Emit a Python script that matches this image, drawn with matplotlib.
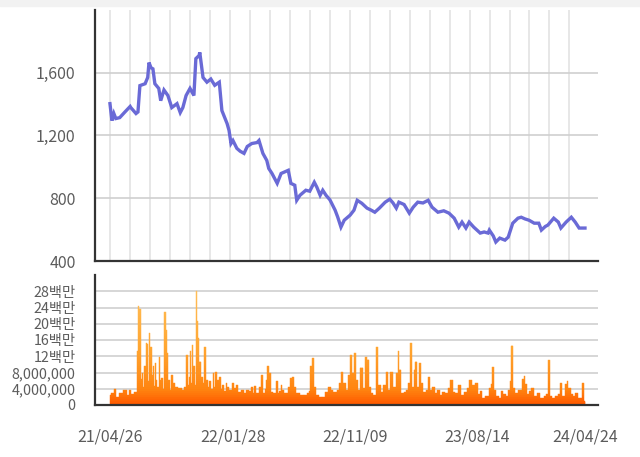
import matplotlib
matplotlib.use("Agg")
import matplotlib.pyplot as plt
import numpy as np
from matplotlib.colors import LinearSegmentedColormap
from matplotlib.patches import Rectangle

plt.rcParams['font.family'] = ['Noto Sans CJK KR', 'DejaVu Sans']

# trading-day number (0 = 21/04/26) and closing price
price_day = [0, 3, 6, 9, 15, 23, 31, 32, 40, 43, 46, 54, 58, 60, 63, 66, 69, 75, 78, 83,
             89, 95, 103, 108, 112, 117, 123, 129, 132, 137, 138, 143, 149, 155, 161, 168,
             172, 180, 183, 186, 189, 195, 200, 206, 211, 218, 226, 229, 235, 241, 244, 249,
             257, 263, 274, 278, 284, 287, 292, 301, 307, 314, 318, 323, 327, 332, 338, 346,
             350, 355, 360, 369, 375, 380, 387, 395, 401, 407, 414, 423, 430, 435, 440, 444,
             452, 460, 466, 473, 481, 489, 495, 504, 513, 521, 529, 536, 541, 547, 552, 559,
             569, 575, 581, 583, 589, 593, 599, 607, 612, 619, 627, 632, 638, 644, 652, 659,
             663, 669, 673, 682, 689, 693, 701, 709, 715, 721, 730]
price = [1403, 1295, 1340, 1308, 1314, 1350, 1385, 1378, 1340, 1350, 1518, 1530, 1570, 1665,
         1632, 1625, 1530, 1500, 1422, 1490, 1455, 1378, 1403, 1346, 1378, 1455, 1500, 1455,
         1690, 1710, 1730, 1570, 1540, 1560, 1520, 1540, 1359, 1276, 1232, 1149, 1168, 1118,
         1100, 1086, 1130, 1149, 1155, 1168, 1086, 1041, 990, 958, 895, 958, 978, 895, 883,
         787, 819, 851, 845, 902, 870, 819, 851, 819, 790, 724, 680, 616, 660, 692, 724, 787,
         768, 737, 725, 711, 737, 775, 794, 770, 737, 775, 760, 705, 743, 775, 770, 787, 743,
         711, 720, 705, 673, 616, 648, 610, 648, 616, 578, 585, 578, 597, 560, 521, 546, 533,
         552, 641, 673, 679, 668, 660, 641, 641, 597, 620, 629, 673, 648, 610, 648, 679, 648,
         610, 610]

# trading volume, millions of shares
vol_day = [0, 3, 8, 12, 17, 23, 28, 31, 35, 40, 42, 43, 46, 48, 50, 52, 54, 56, 58, 59, 60,
           63, 65, 67, 68, 69, 72, 74, 76, 78, 80, 82, 85, 86, 88, 90, 93, 96, 98, 102, 108,
           112, 115, 119, 120, 122, 124, 125, 127, 129, 131, 133, 135, 136, 138, 141, 144,
           146, 149, 151, 154, 157, 159, 161, 163, 166, 169, 171, 174, 177, 179, 181, 186,
           189, 192, 195, 200, 204, 208, 211, 215, 218, 221, 223, 227, 231, 234, 237, 239,
           241, 243, 246, 248, 253, 256, 259, 261, 264, 266, 269, 271, 275, 278, 282, 284,
           289, 295, 300, 305, 307, 309, 312, 314, 318, 323, 328, 333, 337, 341, 346, 351,
           353, 357, 360, 364, 367, 370, 374, 376, 379, 383, 387, 390, 393, 396, 399, 402,
           407, 411, 414, 418, 422, 426, 429, 433, 437, 441, 443, 446, 450, 453, 457, 460,
           463, 465, 468, 471, 474, 476, 480, 483, 487, 490, 493, 497, 501, 505, 508, 512,
           517, 521, 525, 529, 533, 538, 542, 546, 550, 554, 558, 563, 567, 569, 574, 580,
           584, 586, 589, 591, 595, 600, 603, 606, 610, 614, 616, 618, 620, 625, 630, 635,
           637, 640, 643, 646, 649, 653, 658, 664, 669, 672, 675, 678, 681, 686, 690, 693,
           697, 701, 703, 706, 710, 713, 717, 721, 725, 727, 729, 730]
vol_m = [2.5, 3.0, 3.9, 2.0, 3.0, 3.7, 2.5, 3.7, 2.8, 3.2, 13.2, 24.3, 23.6, 6.5, 7.9, 4.5,
         9.5, 15.3, 15.0, 6.0, 17.8, 14.4, 7.4, 9.5, 4.8, 10.3, 6.2, 4.5, 11.8, 6.2, 6.6, 4.0,
         23.0, 18.5, 12.8, 6.2, 3.7, 7.4, 5.3, 4.5, 4.1, 3.7, 4.5, 12.3, 5.0, 6.9, 13.2, 5.5,
         14.8, 9.5, 5.0, 28.0, 20.6, 16.5, 10.7, 6.9, 5.5, 14.4, 6.2, 4.5, 5.8, 4.0, 7.9, 4.5,
         8.2, 6.2, 6.9, 4.0, 4.9, 3.5, 5.3, 4.5, 3.8, 5.3, 4.2, 4.9, 3.3, 3.7, 2.9, 3.7, 3.5,
         4.5, 3.0, 4.7, 2.9, 4.5, 7.4, 2.9, 4.0, 6.2, 9.5, 7.9, 3.3, 2.9, 5.8, 2.9, 3.5, 4.9,
         3.7, 3.0, 2.9, 4.5, 6.6, 6.9, 4.5, 2.9, 2.5, 2.5, 2.9, 3.5, 9.5, 11.5, 4.5, 2.5, 1.9,
         2.0, 3.3, 4.5, 3.7, 3.3, 3.7, 5.3, 8.2, 5.3, 3.7, 7.4, 12.3, 7.8, 12.8, 6.2, 3.7, 9.1,
         4.1, 11.9, 11.1, 4.5, 2.9, 2.5, 14.4, 4.9, 3.3, 4.9, 8.2, 3.7, 8.2, 4.5, 7.8, 13.2,
         8.6, 2.9, 3.3, 3.7, 5.3, 15.2, 4.5, 8.6, 10.7, 4.5, 10.3, 5.3, 3.3, 3.7, 7.0, 3.7,
         4.5, 2.9, 3.7, 2.5, 3.3, 2.9, 4.1, 6.2, 3.3, 2.9, 4.9, 2.5, 3.3, 4.1, 6.2, 4.9, 5.3,
         2.6, 3.4, 1.8, 2.2, 4.3, 5.1, 9.4, 3.8, 2.2, 1.8, 3.4, 2.6, 2.2, 3.8, 5.9, 14.6, 4.3,
         3.0, 3.8, 6.3, 7.2, 5.1, 2.6, 3.4, 4.3, 2.2, 3.0, 1.8, 2.2, 2.6, 11.0, 2.2, 1.8, 2.2,
         2.6, 5.3, 2.2, 5.1, 5.9, 4.3, 2.6, 2.2, 3.0, 1.8, 1.8, 5.5, 1.0, 0.8]

date_labels = ['21/04/26', '22/01/28', '22/11/09', '23/08/14', '24/04/24']
date_days = [0, 189, 376, 564, 730]

price_ticks = [400, 800, 1200, 1600]
vol_ticks = [0, 4e6, 8e6, 12e6, 16e6, 20e6, 24e6, 28e6]
vol_tick_labels = ['0', '4,000,000', '8,000,000', '12백만', '16백만', '20백만', '24백만', '28백만']

W, H = 640, 457
fig = plt.figure(figsize=(W / 100, H / 100), dpi=100)
fig.patches.append(Rectangle((0, 1 - 6 / H), 1, 6 / H, transform=fig.transFigure,
                             color='#f2f2f2', zorder=0))

xlim = (-23, 750)
label_col = '#5c5c5c'
axis_col = '#333333'

### PRICE PANEL
ax1 = fig.add_axes([95 / W, 1 - 261 / H, 503 / W, 251 / H])
for d in np.arange(0, 730, 30.7):
    ax1.axvline(d, color='#e3e3e3', lw=1.2, zorder=1)
for p in price_ticks[1:]:
    ax1.axhline(p, color='#cfcfcf', lw=1.2, zorder=1)
ax1.plot(price_day, price, color='#6a6ad6', lw=2.4, zorder=3, solid_joinstyle='miter')
ax1.set_xlim(*xlim)
ax1.set_ylim(400, 2000)
ax1.set_yticks(price_ticks)
ax1.set_yticklabels(['{:,}'.format(p) for p in price_ticks])
ax1.set_xticks([])
ax1.tick_params(axis='y', length=0, pad=14, labelsize=11.5, labelcolor=label_col)
for s in ['top', 'right']:
    ax1.spines[s].set_visible(False)
for s in ['left', 'bottom']:
    ax1.spines[s].set_color(axis_col)
    ax1.spines[s].set_linewidth(1.6)
    ax1.spines[s].set_zorder(4)

### VOLUME PANEL
ax2 = fig.add_axes([95 / W, 1 - 405 / H, 503 / W, 130 / H])
for v in vol_ticks[1:]:
    ax2.axhline(v, color='#cfcfcf', lw=1.2, zorder=1)
vol = np.array(vol_m) * 1e6
days = np.array(vol_day, dtype=float)
mids = (days[:-1] + days[1:]) / 2
left = np.concatenate([[days[0] - 0.5], mids])
right = np.concatenate([mids, [days[-1] + 0.5]])
widths = right - left
# vertical orange gradient: stack the bars band by band
cmap = LinearSegmentedColormap.from_list(
    'vol', [(0, '#ff5a00'), (0.12, '#ff8410'), (0.45, '#ffa530'), (1, '#ffc25e')])
band = 0.5e6
for lo in np.arange(0, 30e6, band):
    h = np.clip(vol - lo, 0, band)
    keep = h > 0
    if not keep.any():
        break
    c = cmap(lo / 30e6)
    ax2.bar(left[keep], h[keep], width=widths[keep], bottom=lo, align='edge',
            color=c, edgecolor=c, linewidth=0.3, zorder=2)
ax2.set_xlim(*xlim)
ax2.set_ylim(0, 32e6)
ax2.set_yticks(vol_ticks)
ax2.set_yticklabels(vol_tick_labels)
ax2.set_xticks(date_days)
ax2.set_xticklabels(date_labels)
ax2.tick_params(axis='y', length=0, pad=14, labelsize=10.3, labelcolor=label_col)
ax2.tick_params(axis='x', length=0, pad=17, labelsize=11.5, labelcolor=label_col)
for s in ['top', 'right']:
    ax2.spines[s].set_visible(False)
for s in ['left', 'bottom']:
    ax2.spines[s].set_color(axis_col)
    ax2.spines[s].set_linewidth(1.6)
    ax2.spines[s].set_zorder(4)

fig.savefig('out.png', dpi=100)
